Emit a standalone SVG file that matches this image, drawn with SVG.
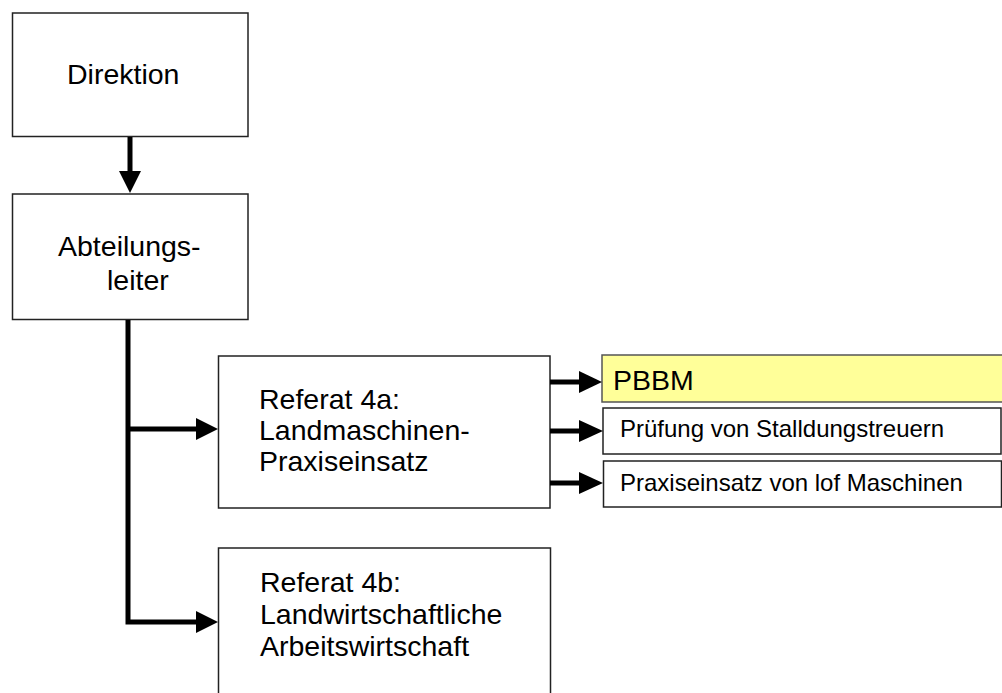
<svg xmlns="http://www.w3.org/2000/svg" width="1002" height="693" viewBox="0 0 1002 693">
<style>
.box{fill:#fff;stroke:#222;stroke-width:1.5}
.hl{fill:#ffff99;stroke:#555;stroke-width:1.5}
.t{font-family:"Liberation Sans",Arial,sans-serif;font-size:28.5px;fill:#000}
.s{font-family:"Liberation Sans",Arial,sans-serif;font-size:24px;fill:#000}
.c{fill:none;stroke:#000;stroke-width:5}
.ah{fill:#000}
</style>
<rect width="1002" height="693" fill="#fff"/>
<g id="direktion">
<rect class="box" x="12.5" y="13" width="235.5" height="123.5"/>
<text class="t" x="67" y="84">Direktion</text>
</g>
<g id="abteilungsleiter">
<rect class="box" x="12.5" y="194" width="235.5" height="125.5"/>
<text class="t" x="58" y="256">Abteilungs-</text>
<text class="t" x="107" y="290">leiter</text>
</g>
<g id="referat4a">
<rect class="box" x="218.5" y="356" width="331.5" height="152"/>
<text class="t" x="259" y="409">Referat 4a:</text>
<text class="t" x="259" y="440">Landmaschinen-</text>
<text class="t" x="259" y="471">Praxiseinsatz</text>
</g>
<g id="referat4b">
<rect class="box" x="218.5" y="548" width="332" height="160"/>
<text class="t" x="260" y="592">Referat 4b:</text>
<text class="t" x="260" y="624">Landwirtschaftliche</text>
<text class="t" x="260" y="656">Arbeitswirtschaft</text>
</g>
<g id="pbbm">
<rect class="hl" x="602" y="355" width="410" height="47"/>
<text class="t" x="613" y="390">PBBM</text>
</g>
<g id="pruefung">
<rect class="box" x="603" y="408" width="398" height="46"/>
<text class="s" x="620" y="437">Prüfung von Stalldungstreuern</text>
</g>
<g id="praxiseinsatz">
<rect class="box" x="603.5" y="461" width="398" height="46"/>
<text class="s" x="620" y="491">Praxiseinsatz von lof Maschinen</text>
</g>
<g id="connectors">
<line class="c" x1="130" y1="137" x2="130" y2="172"/>
<polygon class="ah" points="119,171 141,171 130,193"/>
<polyline class="c" points="128,320 128,622 198,622"/>
<polygon class="ah" points="196,611 218,622 196,633"/>
<line class="c" x1="126" y1="429" x2="198" y2="429"/>
<polygon class="ah" points="196,418 218,429 196,440"/>
<line class="c" x1="550" y1="382" x2="581" y2="382"/>
<polygon class="ah" points="579,371 602,382 579,393"/>
<line class="c" x1="550" y1="431" x2="581" y2="431"/>
<polygon class="ah" points="579,420 603,431 579,442"/>
<line class="c" x1="550" y1="483" x2="581" y2="483"/>
<polygon class="ah" points="579,472 603,483 579,494"/>
</g>
</svg>
